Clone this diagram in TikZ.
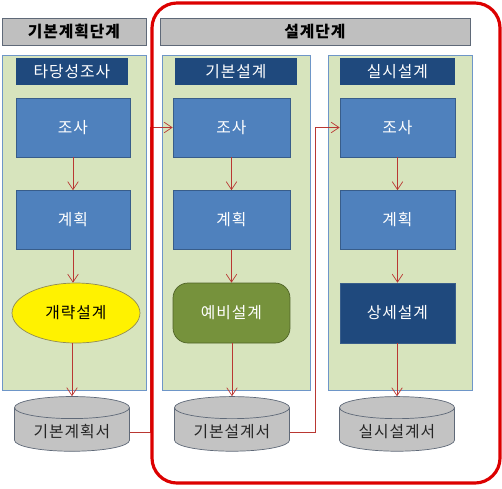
\documentclass[tikz,border=0pt]{standalone}
\usepackage{fontspec}
\setmainfont{Noto Sans CJK KR}[LetterSpace=6]
\usetikzlibrary{shapes.geometric,arrows.meta}
\definecolor{hdrgray}{RGB}{191,191,191}
\definecolor{hdrline}{RGB}{95,105,120}
\definecolor{panelgreen}{RGB}{215,228,189}
\definecolor{panelline}{RGB}{110,150,200}
\definecolor{titlenavy}{RGB}{31,73,125}
\definecolor{boxblue}{RGB}{79,129,189}
\definecolor{boxline}{RGB}{56,93,138}
\definecolor{olivebox}{RGB}{118,146,60}
\definecolor{oliveline}{RGB}{80,100,40}
\definecolor{arrowred}{RGB}{185,55,50}
\definecolor{docgray}{RGB}{195,195,195}
\definecolor{frame}{RGB}{220,0,0}

\begin{document}
\begin{tikzpicture}[x=0.02cm, y=-0.02cm, font=\fontsize{9}{11}\selectfont,
	header/.style={draw=hdrline, fill=hdrgray, minimum height=0.54cm,
		font=\fontsize{9}{11}\selectfont\bfseries},
	panel/.style={draw=panelline, fill=panelgreen, minimum height=6.7cm},
	stagetitle/.style={fill=titlenavy, text=white, minimum height=0.46cm},
	task/.style={draw=boxline, fill=boxblue, text=white, minimum height=1.18cm},
	result/.style={minimum height=1.2cm},
	doc/.style={cylinder, shape border rotate=90, aspect=0.25, draw=hdrline,
		fill=docgray, text=black!85, minimum width=2.3cm, minimum height=0.94cm},
	flow/.style={draw=arrowred, -{Straight Barb[length=4.5pt,width=6pt]}}]
	\useasboundingbox (0,0) rectangle (502,488);
	\node[header, minimum width=2.88cm] (h1) at (74,31.5) {기본계획단계};
	\node[header, minimum width=6.2cm] (h2) at (315,31.5) {설계단계};
	\node[panel, minimum width=2.88cm] (p1) at (74,222.5) {};
	\node[panel, minimum width=2.96cm] (p2) at (236,222.5) {};
	\node[panel, minimum width=2.88cm] (p3) at (400,222.5) {};
	\node[stagetitle, minimum width=2.24cm] (t1) at (72,71.5) {타당성조사};
	\node[stagetitle, minimum width=2.44cm] (t2) at (236,71.5) {기본설계};
	\node[stagetitle, minimum width=2.3cm] (t3) at (397.5,71.5) {실시설계};
	\node[task, minimum width=2.28cm] (s1) at (73,127.5) {조사};
	\node[task, minimum width=2.34cm] (s2) at (231.5,127.5) {조사};
	\node[task, minimum width=2.3cm] (s3) at (397.5,127.5) {조사};
	\node[task, minimum width=2.28cm] (g1) at (73,220) {계획};
	\node[task, minimum width=2.34cm] (g2) at (231.5,220) {계획};
	\node[task, minimum width=2.3cm] (g3) at (397.5,220) {계획};
	\node[result, ellipse, draw=gray!60!olive, fill=yellow, inner sep=0pt,
		minimum width=2.56cm] (e1) at (76,313) {개략설계};
	\node[result, draw=oliveline, fill=olivebox, text=white, rounded corners=0.3cm,
		minimum width=2.34cm] (e2) at (231.5,313) {예비설계};
	\node[result, draw=boxline, fill=titlenavy, text=white,
		minimum width=2.3cm] (e3) at (397.5,313) {상세설계};
	\node[doc] (d1) at (72,432) {기본계획서};
	\node[doc] (d2) at (232,432) {기본설계서};
	\node[doc] (d3) at (397,432) {실시설계서};
	\draw[flow] (s1) -- (g1);
	\draw[flow] (s2) -- (g2);
	\draw[flow] (s3) -- (g3);
	\draw[flow] (g1.south) -- (g1.south |- e1.north);
	\draw[flow] (g2) -- (e2);
	\draw[flow] (g3) -- (e3);
	\draw[flow] (e1.south -| d1.north) -- (d1.north);
	\draw[flow] (e2.south -| d2.north) -- (d2.north);
	\draw[flow] (e3.south -| d3.north) -- (d3.north);
	\draw[flow] (d1.east) -- ++(20,0) |- (s2.west);
	\draw[flow] (d2.east) -- ++(25,0) |- (s3.west);
	\draw[frame, line width=1.8pt, rounded corners=0.5cm] (152,3) rectangle (500,483);
\end{tikzpicture}
\end{document}
